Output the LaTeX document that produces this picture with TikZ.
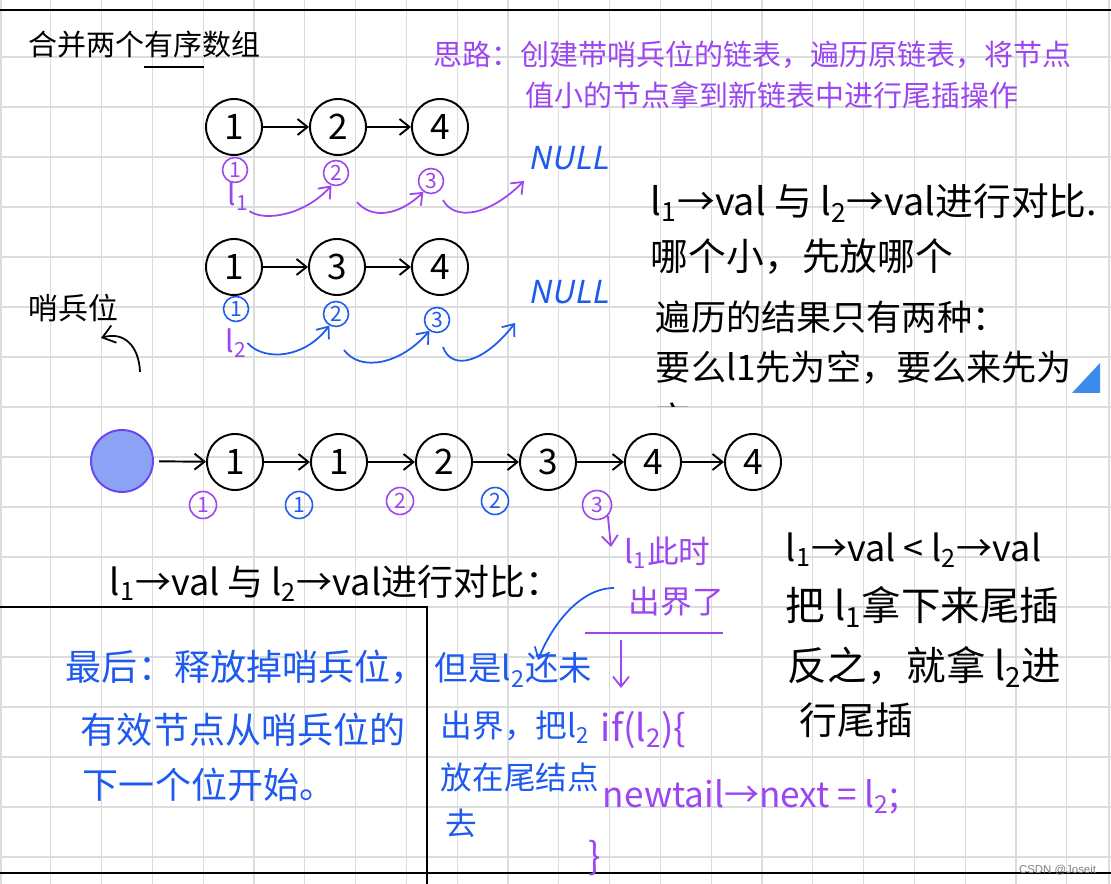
\documentclass[tikz,border=0pt]{standalone}
\usepackage{fontspec}
\setmainfont{Noto Sans CJK SC}
\newfontfamily\slantfont[FakeSlant=0.2]{Noto Sans CJK SC}
\newfontfamily\markfont{Liberation Sans}
\usetikzlibrary{arrows.meta,calc}

\definecolor{notepurple}{RGB}{155,70,240}
\definecolor{noteblue}{RGB}{30,90,240}
\definecolor{gridgray}{RGB}{220,220,220}
\definecolor{sentfill}{RGB}{140,162,245}
\definecolor{sentdraw}{RGB}{105,70,235}
\definecolor{cornerblue}{RGB}{60,140,240}
\newcommand\lsub[1]{l\textsubscript{#1}}

\begin{document}
\begin{tikzpicture}[
x=0.02cm, y=-0.02cm,
line width=1.1pt,
lnode/.style={
    circle,
    draw,
    inner sep=0pt,
    minimum size=1.12cm,
    font=\fontsize{20}{20}\selectfont
    },
idx/.style={
    circle,
    draw,
    inner sep=0pt,
    minimum size=0.5cm,
    line width=0.9pt,
    font=\fontsize{12}{12}\selectfont
    },
link/.style={-{Straight Barb[length=2mm,width=3.2mm]}},
hop/.style={-{Straight Barb[length=2mm,width=3.2mm]}, line width=1pt},
hand/.style={anchor=west, inner sep=0pt, font=\fontsize{21.5}{21.5}\selectfont},
print/.style={anchor=west, inner sep=0pt, font=\fontsize{16.5}{16.5}\selectfont},
gridline/.style={draw=gridgray, line width=0.6pt},
]
\useasboundingbox[fill=white] (0,0) rectangle (1111,884);

% paper
\foreach \gx in {1,...,21}
    \draw[gridline] (\gx*50.8,0) -- (\gx*50.8,884);
\foreach \gy in {1,...,17}
    \draw[gridline] (0,7+\gy*50) -- (1111,7+\gy*50);
\draw[gridline] (1,0) -- (1,884);
\draw[gridline] (1109,0) -- (1109,884);
\draw[line width=1.4pt] (0,10) -- (1111,10);
\draw[line width=1.4pt] (0,873) -- (1111,873);

% title and idea
\node[print] (title) at (28,45) {合并两个有序数组};
\draw[line width=1.2pt] (144,67) -- (204,67);
\node[print, notepurple] (idea1) at (433,55) {思路：创建带哨兵位的链表，遍历原链表，将节点};
\node[print, notepurple] (idea2) at (525,95) {值小的节点拿到新链表中进行尾插操作};

% list l1
\begin{scope}
    \node[lnode] (a1) at (234,127) {1};
    \node[lnode] (a2) at (338,127) {2};
    \node[lnode] (a3) at (440,127) {4};
    \draw[link] (a1) -- (a2);
    \draw[link] (a2) -- (a3);
    \node[idx, notepurple] (p1) at (235,170) {1};
    \node[idx, notepurple] (p2) at (336,173) {2};
    \node[idx, notepurple] (p3) at (431,181) {3};
    \node[anchor=center, inner sep=0pt, notepurple, font=\fontsize{17}{17}\selectfont] (l1) at (238,196) {\lsub{1}};
    \node[anchor=west, inner sep=0pt, noteblue, font=\slantfont\fontsize{18}{18}\selectfont] (null1) at (528,158) {NULL};
    \coordinate (h12) at (357,202);
    \coordinate (h13) at (443,200);
    \coordinate (n1end) at (524,181);
    \draw[hop, notepurple] (l1.south east) .. controls (265,222) and (305,215) .. (p2.250);
    \draw[hop, notepurple] (h12) .. controls (372,220) and (400,215) .. (p3.235);
    \draw[hop, notepurple] (h13) .. controls (455,222) and (490,215) .. (n1end);
\end{scope}

% list l2
\begin{scope}
    \node[lnode] (b1) at (234,267) {1};
    \node[lnode] (b2) at (337,267) {3};
    \node[lnode] (b3) at (440,267) {4};
    \draw[link] (b1) -- (b2);
    \draw[link] (b2) -- (b3);
    \node[idx, noteblue] (q1) at (236,309) {1};
    \node[idx, noteblue] (q2) at (336,314) {2};
    \node[idx, noteblue] (q3) at (437,320) {3};
    \node[anchor=center, inner sep=0pt, notepurple, font=\fontsize{17}{17}\selectfont] (l2) at (236,343) {\lsub{2}};
    \node[anchor=west, inner sep=0pt, noteblue, font=\slantfont\fontsize{18}{18}\selectfont] (null2) at (528,292) {NULL};
    \coordinate (h22) at (344,350);
    \coordinate (h23) at (443,347);
    \coordinate (n2end) at (515,323);
    \draw[hop, noteblue] (l2.east) .. controls (265,362) and (305,358) .. (q2.240);
    \draw[hop, noteblue] (h22) .. controls (360,372) and (400,365) .. (q3.235);
    \draw[hop, noteblue] (h23) .. controls (452,372) and (485,362) .. (n2end);
\end{scope}

% sentinel note
\node[anchor=west, inner sep=0pt, font=\fontsize{17}{17}\selectfont] (sname) at (28,308) {哨兵位};
\coordinate (sv1) at (140,372);
\coordinate (sv2) at (101,338);
\draw[-{Straight Barb[length=2.4mm,width=3.6mm]}, line width=1pt] (sv1) .. controls (139,346) and (124,331) .. (sv2);

% right notes
\node[hand] (k1) at (650,203) {\lsub{1}→val 与 \lsub{2}→val进行对比.};
\node[hand] (k2) at (650,257) {哪个小，先放哪个};
\node[anchor=west, inner sep=0pt, font=\fontsize{20}{20}\selectfont] (k3) at (655,317) {遍历的结果只有两种：};
\node[anchor=west, inner sep=0pt, font=\fontsize{20}{20}\selectfont] (k4) at (655,368) {要么l1先为空，要么来先为};
\begin{scope}
    \clip (640,395) rectangle (720,407);
    \node[anchor=west, inner sep=0pt, font=\fontsize{20}{20}\selectfont] (k5) at (655,418) {空};
\end{scope}
\fill[cornerblue] (1100,363) -- (1100,393) -- (1072,393) -- cycle;

% merged list
\begin{scope}
    \node[circle, fill=sentfill, draw=sentdraw, minimum size=1.24cm] (s) at (122,461) {};
    \node[lnode] (m1) at (235,462) {1};
    \node[lnode] (m2) at (339,462) {1};
    \node[lnode] (m3) at (444,462) {2};
    \node[lnode] (m4) at (548,462) {3};
    \node[lnode] (m5) at (653,462) {4};
    \node[lnode] (m6) at (753,462) {4};
    \draw[link, shorten <=3pt] (s) -- (m1);
    \foreach \i/\j in {m1/m2,m2/m3,m3/m4,m4/m5,m5/m6}
        \draw[link] (\i) -- (\j);
    \node[idx, notepurple, minimum size=0.54cm] (r1) at (203,505) {1};
    \node[idx, noteblue, minimum size=0.54cm] (r2) at (299,505) {1};
    \node[idx, notepurple, minimum size=0.54cm] (r3) at (400,501) {2};
    \node[idx, noteblue, minimum size=0.54cm] (r4) at (495,501) {2};
    \node[idx, notepurple, minimum size=0.58cm] (r5) at (597,505) {3};
\end{scope}

% l1 runs out
\coordinate (dn) at (611,547);
\draw[hop, notepurple] (r5.south east) -- (dn);
\node[anchor=west, inner sep=0pt, notepurple, font=\fontsize{18}{18}\selectfont] (t1) at (624,553) {\lsub{1}此时};
\node[anchor=west, inner sep=0pt, notepurple, font=\fontsize{18}{18}\selectfont] (t2) at (628,602) {出界了};
\coordinate (bar1) at (585,633);
\coordinate (bar2) at (723,633);
\draw[notepurple] (bar1) -- (bar2);
\coordinate (dw1) at (621,640);
\coordinate (dw2) at (621,688);
\draw[hop, notepurple] (dw1) -- (dw2);
\coordinate (bc1) at (614,588);
\coordinate (bc2) at (538,660);
\draw[hop, noteblue] (bc1) .. controls (580,588) and (552,625) .. (bc2);
\node[hand, notepurple, font=\fontsize{21}{21}\selectfont] (cif) at (600,730) {if(\lsub{2})\{};
\node[hand, notepurple, font=\fontsize{20}{20}\selectfont] (ctail) at (602,797) {newtail→next = \lsub{2};};
\node[hand, notepurple, font=\fontsize{21}{21}\selectfont] (cend) at (588,858) {\}};

% compare rule
\node[hand, font=\fontsize{20.5}{20.5}\selectfont] (c1) at (785,550) {\lsub{1}→val < \lsub{2}→val};
\node[hand, font=\fontsize{22.5}{22.5}\selectfont] (c2) at (785,607) {把 \lsub{1}拿下来尾插};
\node[hand, font=\fontsize{22.5}{22.5}\selectfont] (c3) at (787,667) {反之，就拿 \lsub{2}进};
\node[hand] (c4) at (799,720) {行尾插};
\node[hand, font=\fontsize{20.5}{20.5}\selectfont] (cmp) at (109,583) {\lsub{1}→val 与 \lsub{2}→val进行对比：};

% box
\draw (0,607) -- (427,607) -- (427,884);
\node[hand, noteblue, font=\fontsize{20.5}{20.5}\selectfont] (f1) at (65,667) {最后：释放掉哨兵位，};
\node[hand, noteblue, font=\fontsize{20.5}{20.5}\selectfont] (f2) at (80,730) {有效节点从哨兵位的};
\node[hand, noteblue, font=\fontsize{20.5}{20.5}\selectfont] (f3) at (82,785) {下一个位开始。};
\node[hand, noteblue, font=\fontsize{19}{19}\selectfont] (g1) at (434,670) {但是\lsub{2}还未};
\node[hand, noteblue, font=\fontsize{18}{18}\selectfont] (g2) at (440,727) {出界，把\lsub{2}};
\node[hand, noteblue, font=\fontsize{18}{18}\selectfont] (g3) at (440,777) {放在尾结点};
\node[hand, noteblue, font=\fontsize{18}{18}\selectfont] (g4) at (445,823) {去};

\node[anchor=east, inner sep=0pt, gray, font=\markfont\fontsize{6.5}{6.5}\selectfont] (mark) at (1097,870) {CSDN @Joseit};
\end{tikzpicture}
\end{document}
